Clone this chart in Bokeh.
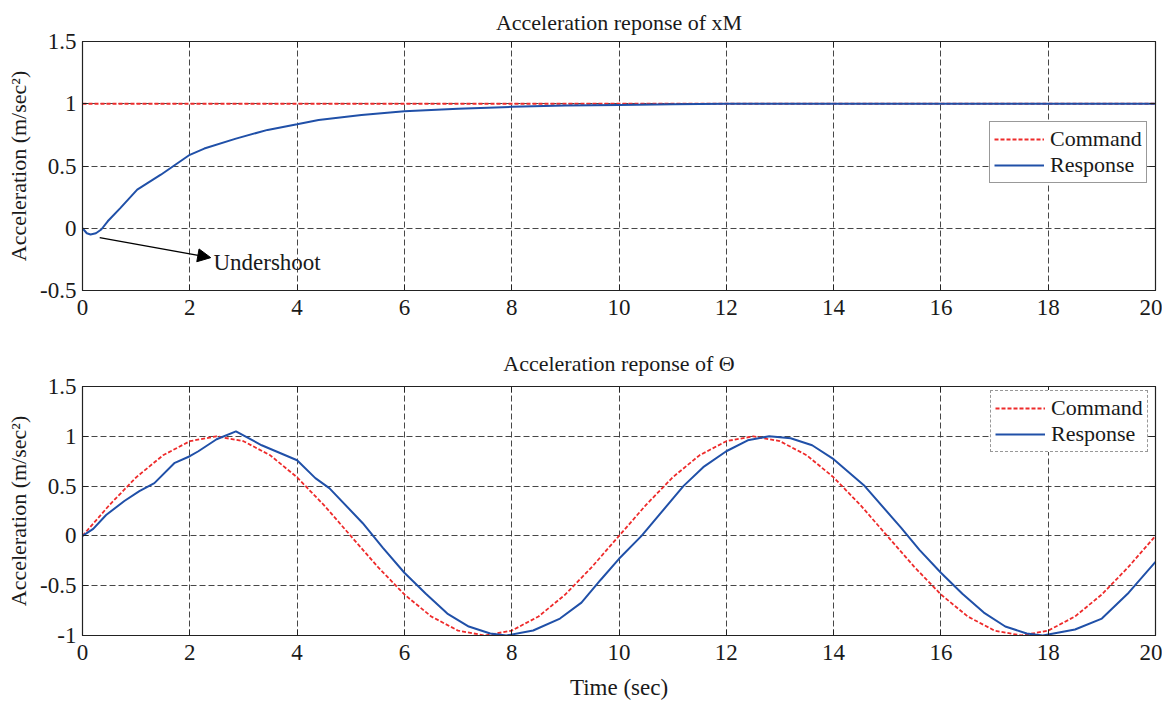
from bokeh.plotting import figure
from bokeh.layouts import column
from bokeh.models import (Range1d, FixedTicker, LinearAxis, Legend, LegendItem,
                          Arrow, NormalHead, Label, CustomJSTickFormatter)
from bokeh.embed import file_html
from bokeh.resources import INLINE

FONT = "Liberation Serif"
RED = "#ee2b2b"
BLUE = "#2050a8"
TXT = "#1a1a1a"

# ---------------- data ----------------
XTICKS = [0, 2, 4, 6, 8, 10, 12, 14, 16, 18, 20]
YTICKS_TOP = [-0.5, 0, 0.5, 1, 1.5]
YTICKS_BOT = [-1, -0.5, 0, 0.5, 1, 1.5]
YLABELS = {-1: "-1", -0.5: "-0.5", 0: "0", 0.5: "0.5", 1: "1", 1.5: "1.5"}

TITLE_TOP = "Acceleration reponse of xM"
TITLE_BOT = "Acceleration reponse of \u0398"

# top panel: xM
t_cmd_top = [0, 20]
cmd_top = [1, 1]
t_resp_top = [0, 0.08, 0.15, 0.25, 0.35, 0.47, 0.7, 1.02, 1.46, 2.0, 2.27, 2.86,
              3.45, 4.0, 4.4, 5.2, 6.0, 7.0, 8.0, 9.0, 10.0, 11.0, 12.0, 14, 16, 18, 20]
resp_top = [0, -0.04, -0.05, -0.04, -0.01, 0.056, 0.16, 0.31, 0.43, 0.59, 0.64, 0.72,
            0.79, 0.835, 0.87, 0.91, 0.94, 0.96, 0.975, 0.985, 0.99, 0.995, 1.0, 1.0, 1.0, 1.0, 1.0]

# bottom panel: Theta
t_cmd_bot = [0, 0.5, 1, 1.5, 2, 2.5, 3, 3.5, 4, 4.5, 5, 5.5, 6, 6.5, 7, 7.5, 8, 8.5, 9, 9.5,
             10, 10.5, 11, 11.5, 12, 12.5, 13, 13.5, 14, 14.5, 15, 15.5, 16, 16.5, 17, 17.5,
             18, 18.5, 19, 19.5, 20]
cmd_bot = [0, 0.309, 0.588, 0.809, 0.951, 1.0, 0.951, 0.809, 0.588, 0.309,
           0, -0.309, -0.588, -0.809, -0.951, -1.0, -0.951, -0.809, -0.588, -0.309,
           0, 0.309, 0.588, 0.809, 0.951, 1.0, 0.951, 0.809, 0.588, 0.309,
           0, -0.309, -0.588, -0.809, -0.951, -1.0, -0.951, -0.809, -0.588, -0.309, 0]
t_resp_bot = [0, 0.2, 0.44, 0.78, 1.06, 1.34, 1.71, 2.0, 2.16, 2.5, 2.86, 3.34, 4.0, 4.34,
              4.6, 5.22, 5.6, 6.0, 6.4, 6.8, 7.2, 7.6, 7.9, 8.4, 8.9, 9.3, 9.66, 10.0, 10.42,
              11.2, 11.57, 12.0, 12.4, 12.8, 13.2, 13.6, 14.0, 14.58, 15.26, 15.6, 16.0,
              16.4, 16.8, 17.2, 17.6, 17.9, 18.5, 19.0, 19.5, 20.0]
resp_bot = [0, 0.07, 0.21, 0.35, 0.45, 0.53, 0.73, 0.80, 0.85, 0.97, 1.05, 0.91, 0.76, 0.58,
            0.48, 0.13, -0.12, -0.37, -0.58, -0.78, -0.91, -0.98, -1.0, -0.95, -0.83, -0.67,
            -0.44, -0.23, 0.0, 0.5, 0.69, 0.85, 0.96, 1.0, 0.98, 0.91, 0.77, 0.5, 0.08, -0.14,
            -0.37, -0.58, -0.77, -0.91, -0.98, -1.0, -0.94, -0.83, -0.57, -0.26]

# annotation
ARROW_START = (0.32, -0.076)
ARROW_END = (2.39, -0.236)
NOTE_POS = (2.44, -0.276)


def make_fig(title, ylo, yhi, yticks, height, btop, bbottom, standoff, xlabel=None):
    p = figure(width=1162, height=height, x_range=Range1d(0, 20), y_range=Range1d(ylo, yhi),
               output_backend="svg", toolbar_location=None,
               min_border_left=82, min_border_right=7, min_border_top=btop,
               min_border_bottom=bbottom)
    p.title.text = title
    p.title.align = "center"
    p.title.text_font = FONT
    p.title.text_font_size = "22px"
    p.title.text_font_style = "normal"
    p.title.text_color = TXT
    p.title.standoff = standoff
    p.outline_line_color = "#222222"
    p.outline_line_width = 1.2
    p.outline_line_alpha = 1

    for ax in (p.xaxis[0], p.yaxis[0]):
        ax.major_label_text_font = FONT
        ax.major_label_text_font_size = "23px"
        ax.major_label_text_color = TXT
        ax.major_tick_in = 6
        ax.major_tick_out = 0
        ax.minor_tick_in = 0
        ax.minor_tick_out = 0
        ax.axis_line_color = "#222222"
        ax.major_tick_line_color = "#222222"
        ax.axis_label_text_font = FONT
        ax.axis_label_text_font_size = "22px"
        ax.axis_label_text_font_style = "normal"
        ax.axis_label_text_color = TXT
    p.yaxis.major_label_standoff = 6
    p.xaxis.major_label_standoff = 9
    p.xaxis.ticker = FixedTicker(ticks=XTICKS)
    p.yaxis.ticker = FixedTicker(ticks=yticks)
    p.yaxis.major_label_overrides = {k: v for k, v in YLABELS.items() if k in yticks}
    p.yaxis.axis_label = "Acceleration (m/sec\u00b2)"
    p.yaxis.axis_label_standoff = 6
    if xlabel:
        p.xaxis.axis_label = xlabel
        p.xaxis.axis_label_standoff = 12
        p.xaxis.axis_label_text_font_size = "23px"

    # tick marks on right and top (no labels)
    for loc, tk in (("right", yticks), ("above", XTICKS)):
        ax = LinearAxis(ticker=FixedTicker(ticks=tk),
                        formatter=CustomJSTickFormatter(code="return ''"))
        ax.major_label_text_font_size = "0px"
        ax.major_label_standoff = 0
        ax.major_tick_in = 6
        ax.major_tick_out = 0
        ax.minor_tick_in = 0
        ax.minor_tick_out = 0
        ax.axis_line_color = "#222222"
        ax.major_tick_line_color = "#222222"
        p.add_layout(ax, loc)

    for g in (p.xgrid[0], p.ygrid[0]):
        g.grid_line_color = "#333333"
        g.grid_line_dash = "6 3"
        g.grid_line_width = 1
        g.grid_line_alpha = 0.9
    p.xgrid.ticker = FixedTicker(ticks=XTICKS)
    p.ygrid.ticker = FixedTicker(ticks=yticks)
    return p


def add_legend(p, r1, r2, loc, dashed):
    leg = Legend(items=[LegendItem(label="Command", renderers=[r1]),
                        LegendItem(label="Response", renderers=[r2])],
                 location=loc, margin=0, padding=4, spacing=0,
                 glyph_width=50, glyph_height=22, label_standoff=6, label_height=22,
                 label_text_font=FONT, label_text_font_size="22px", label_text_color=TXT,
                 border_line_color="#333333", border_line_width=1.2,
                 background_fill_color="white", background_fill_alpha=1)
    if dashed:
        leg.border_line_dash = "5 3"
        leg.border_line_color = "#333333"
    p.add_layout(leg)


# ---------------- top ----------------
p1 = make_fig(TITLE_TOP, -0.5, 1.5, YTICKS_TOP, 330, 40, 40, 14)
c1 = p1.line(t_cmd_top, cmd_top, line_color=RED, line_width=1.8, line_dash="4 2")
r1 = p1.line(t_resp_top, resp_top, line_color=BLUE, line_width=2)
add_legend(p1, c1, r1, (907, 107), False)
p1.add_layout(Arrow(end=NormalHead(size=13, fill_color="black", line_color="black"),
                    x_start=ARROW_START[0], y_start=ARROW_START[1],
                    x_end=ARROW_END[0], y_end=ARROW_END[1],
                    line_color="black", line_width=1.3))
p1.add_layout(Label(x=NOTE_POS[0], y=NOTE_POS[1], text="Undershoot",
                    text_font=FONT, text_font_size="23px", text_color=TXT,
                    text_baseline="middle", text_align="left"))

# ---------------- bottom ----------------
p2 = make_fig(TITLE_BOT, -1, 1.5, YTICKS_BOT, 372, 56, 67, 22, xlabel="Time (sec)")
c2 = p2.line(t_cmd_bot, cmd_bot, line_color=RED, line_width=1.8, line_dash="4 2")
r2 = p2.line(t_resp_bot, resp_bot, line_color=BLUE, line_width=2)
add_legend(p2, c2, r2, (908, 183), True)

layout = column(p1, p2, spacing=0)
open("out.html", "w").write(file_html(layout, INLINE))
